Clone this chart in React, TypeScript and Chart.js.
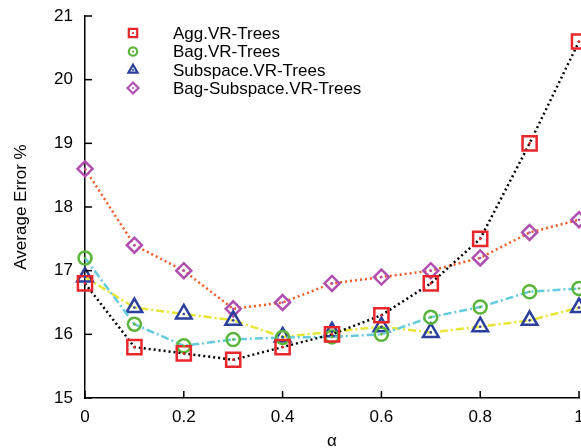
import React, { useEffect, useRef } from "react";
import { Chart, registerables } from "chart.js";

Chart.register(...registerables);

const alphaValues = [0, 0.1, 0.2, 0.3, 0.4, 0.5, 0.6, 0.7, 0.8, 0.9, 1.0];
const aggVR = [16.8, 15.8, 15.7, 15.6, 15.8, 16.0, 16.3, 16.8, 17.5, 19.0, 20.6];
const bagVR = [17.2, 16.16, 15.82, 15.92, 15.95, 15.96, 16.0, 16.27, 16.43, 16.67, 16.72];
const subspaceVR = [16.9, 16.42, 16.32, 16.22, 15.96, 16.04, 16.12, 16.03, 16.12, 16.22, 16.42];
const bagSubspaceVR = [18.6, 17.4, 17.0, 16.4, 16.5, 16.8, 16.9, 17.0, 17.2, 17.6, 17.8];

const seriesNames = ["Agg.VR-Trees", "Bag.VR-Trees", "Subspace.VR-Trees", "Bag-Subspace.VR-Trees"];
const xTickLabels = ["0", "0.2", "0.4", "0.6", "0.8", "1"];
const yTickLabels = ["15", "16", "17", "18", "19", "20", "21"];

const FONT = "'Liberation Sans', Arial, Helvetica, sans-serif";

const markerColors = ["#e8262b", "#5cb53c", "#2b3f9c", "#b04fb0"];
const lineColors = ["#000000", "#66cbdc", "#e6e636", "#f25a28"];
const lineDashes = [[2, 3], [8, 3, 2, 3], [8, 3, 2, 3], [2, 3]];
const pointStyles = ["rect", "circle", "triangle", "rectRot"];
const pointRadii = [10, 6.5, 9, 7.5];
const seriesValues = [aggVR, bagVR, subspaceVR, bagSubspaceVR];

function drawMarker(ctx: CanvasRenderingContext2D, style: string, x: number, y: number, r: number) {
  ctx.beginPath();
  if (style === "rect") {
    const s = r;
    ctx.rect(x - s, y - s, 2 * s, 2 * s);
  } else if (style === "circle") {
    ctx.arc(x, y, r, 0, Math.PI * 2);
  } else if (style === "triangle") {
    const R = r * 1.25;
    ctx.moveTo(x, y - R);
    ctx.lineTo(x + R * Math.sin(Math.PI / 3), y + R * 0.5);
    ctx.lineTo(x - R * Math.sin(Math.PI / 3), y + R * 0.5);
    ctx.closePath();
  } else {
    const R = r * 1.3;
    ctx.moveTo(x - R, y);
    ctx.lineTo(x, y - R);
    ctx.lineTo(x + R, y);
    ctx.lineTo(x, y + R);
    ctx.closePath();
  }
  ctx.stroke();
}

const decorPlugin = {
  id: "decor",
  afterDatasetsDraw(chart: any) {
    const ctx: CanvasRenderingContext2D = chart.ctx;
    ctx.save();
    chart.data.datasets.forEach((ds: any, i: number) => {
      const meta = chart.getDatasetMeta(i);
      ctx.fillStyle = ds.pointBorderColor;
      meta.data.forEach((el: any) => {
        ctx.beginPath();
        ctx.arc(el.x, el.y, 1.3, 0, Math.PI * 2);
        ctx.fill();
      });
    });
    ctx.restore();
  },
  afterDraw(chart: any) {
    const ctx: CanvasRenderingContext2D = chart.ctx;
    const xs = chart.scales.x;
    const ys = chart.scales.y;
    const area = chart.chartArea;
    ctx.save();
    ctx.strokeStyle = "#000";
    ctx.lineWidth = 1.5;
    // inward ticks
    xs.ticks.forEach((t: any) => {
      const px = xs.getPixelForValue(t.value);
      ctx.beginPath();
      ctx.moveTo(px, area.bottom);
      ctx.lineTo(px, area.bottom - 7);
      ctx.stroke();
    });
    ys.ticks.forEach((t: any) => {
      const py = ys.getPixelForValue(t.value);
      ctx.beginPath();
      ctx.moveTo(area.left, py);
      ctx.lineTo(area.left + 7, py);
      ctx.stroke();
    });
    // legend
    const mx = 133;
    const tx = 173;
    const rows = [33, 51.5, 70, 88];
    ctx.font = `17px ${FONT}`;
    ctx.textBaseline = "middle";
    ctx.textAlign = "left";
    seriesNames.forEach((name, i) => {
      ctx.strokeStyle = markerColors[i];
      ctx.lineWidth = 2.2;
      drawMarker(ctx, pointStyles[i], mx, rows[i], 4.2);
      ctx.fillStyle = markerColors[i];
      ctx.beginPath();
      ctx.arc(mx, rows[i], 1.1, 0, Math.PI * 2);
      ctx.fill();
      ctx.fillStyle = "#000";
      ctx.fillText(name, tx, rows[i] + 1);
    });
    ctx.restore();
  },
};

export default function App() {
  const canvasRef = useRef<HTMLCanvasElement | null>(null);

  useEffect(() => {
    if (!canvasRef.current) return;
    const datasets = seriesNames.map((name, i) => ({
      label: name,
      data: alphaValues.map((a, j) => ({ x: a, y: seriesValues[i][j] })),
      borderColor: lineColors[i],
      borderWidth: 2.5,
      borderDash: lineDashes[i],
      fill: false,
      tension: 0,
      pointStyle: pointStyles[i],
      pointRadius: pointRadii[i],
      pointHoverRadius: pointRadii[i],
      pointBorderColor: markerColors[i],
      pointBackgroundColor: "rgba(0,0,0,0)",
      pointBorderWidth: 2.5,
      clip: false as any,
    }));

    const chart = new Chart(canvasRef.current, {
      type: "line",
      data: { datasets },
      plugins: [decorPlugin],
      options: {
        animation: false,
        responsive: false,
        devicePixelRatio: 1,
        layout: { autoPadding: false, padding: { top: 16, right: 2, left: 0, bottom: 0 } },
        plugins: { legend: { display: false }, tooltip: { enabled: false } },
        events: [],
        scales: {
          x: {
            type: "linear",
            min: 0,
            max: 1,
            ticks: {
              stepSize: 0.2,
              padding: 9,
              color: "#000",
              font: { family: FONT, size: 17 },
              maxRotation: 0,
              autoSkip: false,
              callback: (v: any) => {
                const idx = Math.round(Number(v) * 5);
                return xTickLabels[idx] ?? "";
              },
            },
            grid: { display: true, drawOnChartArea: false, drawTicks: false },
            border: { display: true, color: "#000", width: 1.5 },
            title: {
              display: true,
              text: "α",
              color: "#000",
              font: { family: FONT, size: 17 },
              padding: { top: 4, bottom: 8 },
            },
            afterFit: (s: any) => {
              s.height = 62;
              s.paddingLeft = 0;
              s.paddingRight = 0;
            },
          },
          y: {
            type: "linear",
            min: 15,
            max: 21,
            ticks: {
              stepSize: 1,
              padding: 12,
              color: "#000",
              font: { family: FONT, size: 17 },
              callback: (v: any) => {
                const idx = Math.round(Number(v) - 15);
                return yTickLabels[idx] ?? "";
              },
            },
            grid: { display: true, drawOnChartArea: false, drawTicks: false },
            border: { display: true, color: "#000", width: 1.5 },
            title: {
              display: true,
              text: "Average Error %",
              color: "#000",
              font: { family: FONT, size: 17 },
              padding: { top: 11, bottom: 0 },
            },
            afterFit: (s: any) => {
              s.width = 85;
              s.paddingTop = 0;
              s.paddingBottom = 0;
            },
          },
        },
      },
    });
    return () => chart.destroy();
  }, []);

  return (
    <div
      style={{
        position: "absolute",
        left: 0,
        top: 0,
        width: 581,
        height: 448,
        overflow: "hidden",
        background: "#fff",
      }}
    >
      <canvas ref={canvasRef} width={581} height={460} style={{ display: "block", width: 581, height: 460 }} />
    </div>
  );
}
